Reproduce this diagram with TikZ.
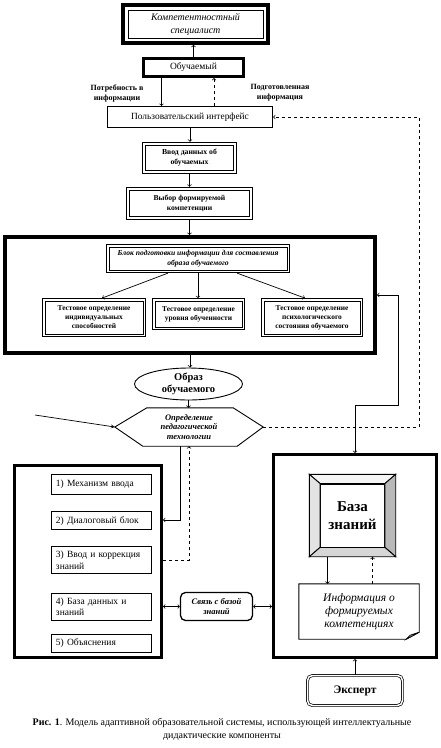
\documentclass[tikz,border=0pt]{standalone}
\usepackage{fontspec}
\setmainfont{Liberation Serif}
\usetikzlibrary{positioning, arrows, shapes.geometric}
\newcommand{\fsz}[2]{\fontsize{#1}{#2}\selectfont}
\newcommand{\blknode}[4]{\node[#4] (#1) at (#2) {#3};}
\newcommand{\relnode}[3]{\node[#3] (#1) {#2};}
\newcommand{\blkedge}[3]{\draw [->, >=to, line width=0.7pt, #3] (#1) -- (#2);}
\tikzset{
  heavy/.style={draw, line width=#1, align=center, inner sep=1pt},
  framed/.style 2 args={draw, line width=#1, align=center, inner sep=1pt,
    path picture={\draw[line width=0.7pt] ([shift={(#2,-#2)}]path picture bounding box.north west) rectangle ([shift={(-#2,#2)}]path picture bounding box.south east);}},
  listitem/.style={draw, line width=0.8pt, minimum width=100pt, text width=91pt, align=left, inner sep=0pt, font=\fsz{9.5}{11.5}},
  link/.style={line width=0.7pt, >=to},
}

\begin{document}
\begin{tikzpicture}[x=1pt, y=-1pt]
\path[fill=white, use as bounding box] (0,0) rectangle (440,748);

% upper chain
\blknode{spec}{195.5,24}{Компетентностный\\специалист}{framed={3.5pt}{5pt}, font=\fsz{10}{13}\itshape, minimum width=145pt, minimum height=38pt};
\blknode{learner}{193.5,67.5}{Обучаемый}{heavy=3pt, font=\fsz{9.5}{11}, minimum width=100pt, minimum height=18pt};
\blknode{need}{117,93}{Потребность в\\информации}{align=center, inner sep=0pt, font=\fsz{8}{10}\bfseries};
\blknode{ready}{280,93}{Подготовленная\\информация}{align=center, inner sep=0pt, font=\fsz{8}{10}\bfseries};
\blknode{iface}{190,117}{Пользовательский интерфейс}{heavy=1.2pt, font=\fsz{9.4}{11}, minimum width=165pt, minimum height=21pt};
\blknode{entry}{189.5,158}{Ввод данных об\\обучаемых}{framed={1.5pt}{3pt}, font=\fsz{7.7}{10}\bfseries, minimum width=94pt, minimum height=31pt};
\blknode{choice}{189.5,203.5}{Выбор формируемой\\компетенции}{framed={1.5pt}{3pt}, font=\fsz{7.6}{10}\bfseries, minimum width=126pt, minimum height=32pt};

\blkedge{learner.north}{learner.north |- spec.south}{};
\blkedge{[xshift=-32pt]learner.south}{[xshift=-32pt]learner.south |- iface.north}{};
\blkedge{[xshift=24pt]iface.north}{[xshift=24pt]iface.north |- learner.south}{dashed};
\blkedge{iface.south}{iface.south |- entry.north}{};
\blkedge{entry.south}{entry.south |- choice.north}{};

% block of learner image
\blknode{prep}{190,295}{}{heavy=4pt, minimum width=370pt, minimum height=116pt};
\blkedge{choice.south}{choice.south |- prep.north}{};
\blknode{prepin}{198,258.5}{Блок подготовки информации для составления\\образа обучаемого}{framed={1.2pt}{2.5pt}, font=\fsz{7.6}{10}\bfseries\itshape, minimum width=183pt, minimum height=28pt};
\blknode{test1}{94,317.5}{Тестовое определение\\индивидуальных\\способностей}{framed={0.8pt}{2.5pt}, font=\fsz{7.4}{9}\bfseries, minimum width=103pt, minimum height=38pt};
\blknode{test2}{198.5,314}{Тестовое определение\\уровня обученности}{framed={0.8pt}{2.5pt}, font=\fsz{7.4}{9}\bfseries, minimum width=92pt, minimum height=31pt};
\blknode{test3}{312,317.5}{Тестовое определение\\психологического\\состояния обучаемого}{framed={0.8pt}{2.5pt}, font=\fsz{7.4}{9}\bfseries, minimum width=101pt, minimum height=38pt};
\blkedge{[xshift=-30pt]prepin.south}{[xshift=8pt]test1.north}{};
\blkedge{prepin.south}{prepin.south |- test2.north}{};
\blkedge{[xshift=39pt]prepin.south}{[xshift=-7pt]test3.north}{};

% image and technology
\blknode{image}{188.5,384}{Образ\\обучаемого}{ellipse, draw, line width=0.9pt, align=center, font=\fsz{10.5}{11.5}\bfseries, minimum width=108pt, minimum height=32pt, inner sep=0pt};
\blknode{tech}{189,427}{Определение\\педагогической\\технологии}{align=center, font=\fsz{8.5}{9.5}\bfseries\itshape, minimum width=148pt, minimum height=38pt, inner sep=0pt};
\draw[line width=0.9pt] (tech.west) -- ([xshift=32pt]tech.north west) -- ([xshift=-30pt]tech.north east) -- (tech.east) -- ([xshift=-26pt]tech.south east) -- ([xshift=28pt]tech.south west) -- cycle;
\blkedge{prep.south}{prep.south |- image.north}{};
\blkedge{image.south}{image.south |- tech.north}{};
\coordinate (feed) at (35,415);
\draw[->, >=stealth, line width=0.7pt] (feed) -- (tech.west);
\coordinate (backx) at (419,0);
\draw[link, ->, dashed] (tech.east) -| (backx |- iface.east) -- (iface.east);

% left panel
\blknode{panel}{88,561.5}{}{heavy=3pt, minimum width=147pt, minimum height=192pt};
\blknode{it1}{101.5,484}{1) Механизм ввода}{listitem, minimum height=20pt};
\relnode{it2}{2) Диалоговый блок}{listitem, minimum height=18pt, below=17pt of it1};
\relnode{it3}{3) Ввод и коррекция\\знаний}{listitem, minimum height=27pt, below=16pt of it2};
\relnode{it4}{4) База данных и\\знаний}{listitem, minimum height=27pt, below=19pt of it3};
\relnode{it5}{5) Объяснения}{listitem, minimum height=18pt, below=13pt of it4};
\draw[link, ->] ([xshift=-9pt]tech.south) |- ([yshift=41.5pt]panel.east);
\draw[link, ->, dashed] ([yshift=1.5pt]panel.east) -| (tech.south);
\blknode{kblink}{216.5,606.5}{Связь с базой\\знаний}{heavy=1.3pt, font=\fsz{8.5}{10}\bfseries\itshape, rounded corners=5pt, minimum width=72pt, minimum height=28pt};
\draw[link, <->] (panel.east |- kblink.west) -- (kblink.west);

% right panel
\blknode{store}{355,556}{}{heavy=3pt, minimum width=163pt, minimum height=203pt};
\draw[link, <->] (kblink.east) -- (kblink.east -| store.west);
\coordinate (turn) at (398,405);
\draw[link, <->] (prep.east) -| (turn) -| (store.north);
\blknode{kb}{352.5,515.5}{}{minimum width=86pt, minimum height=82pt, inner sep=0pt};
\blknode{kbin}{352.5,515.5}{База\\знаний}{draw, fill=white, line width=0.9pt, align=center, font=\fsz{15}{18}\bfseries, minimum width=64pt, minimum height=63pt, inner sep=0pt};
\filldraw[fill=gray!8, line width=0.9pt] (kb.north west) -- (kb.north east) -- (kbin.north east) -- (kbin.north west) -- cycle;
\filldraw[fill=gray!22, line width=0.9pt] (kb.north west) -- (kbin.north west) -- (kbin.south west) -- (kb.south west) -- cycle;
\filldraw[fill=gray!55, line width=0.9pt] (kb.north east) -- (kb.south east) -- (kbin.south east) -- (kbin.north east) -- cycle;
\filldraw[fill=gray!32, line width=0.9pt] (kb.south west) -- (kbin.south west) -- (kbin.south east) -- (kb.south east) -- cycle;
\blknode{info}{359,611.5}{Информация о\\формируемых\\компетенциях}{align=center, font=\fsz{11.5}{13}\itshape, minimum width=120pt, minimum height=55pt, inner sep=0pt};
\draw[line width=0.9pt] (info.north west) -- (info.north east) -- ([yshift=7pt]info.south east) -- ([xshift=-13pt]info.south east) -- (info.south west) -- cycle;
\filldraw[fill=gray!50, line width=0.7pt] ([yshift=7pt]info.south east) -- ([xshift=-13pt]info.south east) -- ([shift={(-9pt,4pt)}]info.south east) -- cycle;
\blkedge{[xshift=-25pt]kb.south}{[xshift=-25pt]kb.south |- info.north}{};
\blkedge{[xshift=20pt]kb.south |- info.north}{[xshift=20pt]kb.south}{dashed};
\blknode{expert}{355,690.5}{Эксперт}{draw, double, double distance=1.5pt, line width=0.7pt, rounded corners=5pt, font=\fsz{11.5}{13}\bfseries, minimum width=95pt, minimum height=30pt};
\blkedge{expert.north}{store.south}{};

% caption
\blknode{cap}{222,729.5}{\textbf{Рис. 1}. Модель адаптивной образовательной системы, использующей интеллектуальные\\дидактические компоненты}{align=center, inner sep=0pt, font=\fsz{10}{13}};
\end{tikzpicture}
\end{document}
